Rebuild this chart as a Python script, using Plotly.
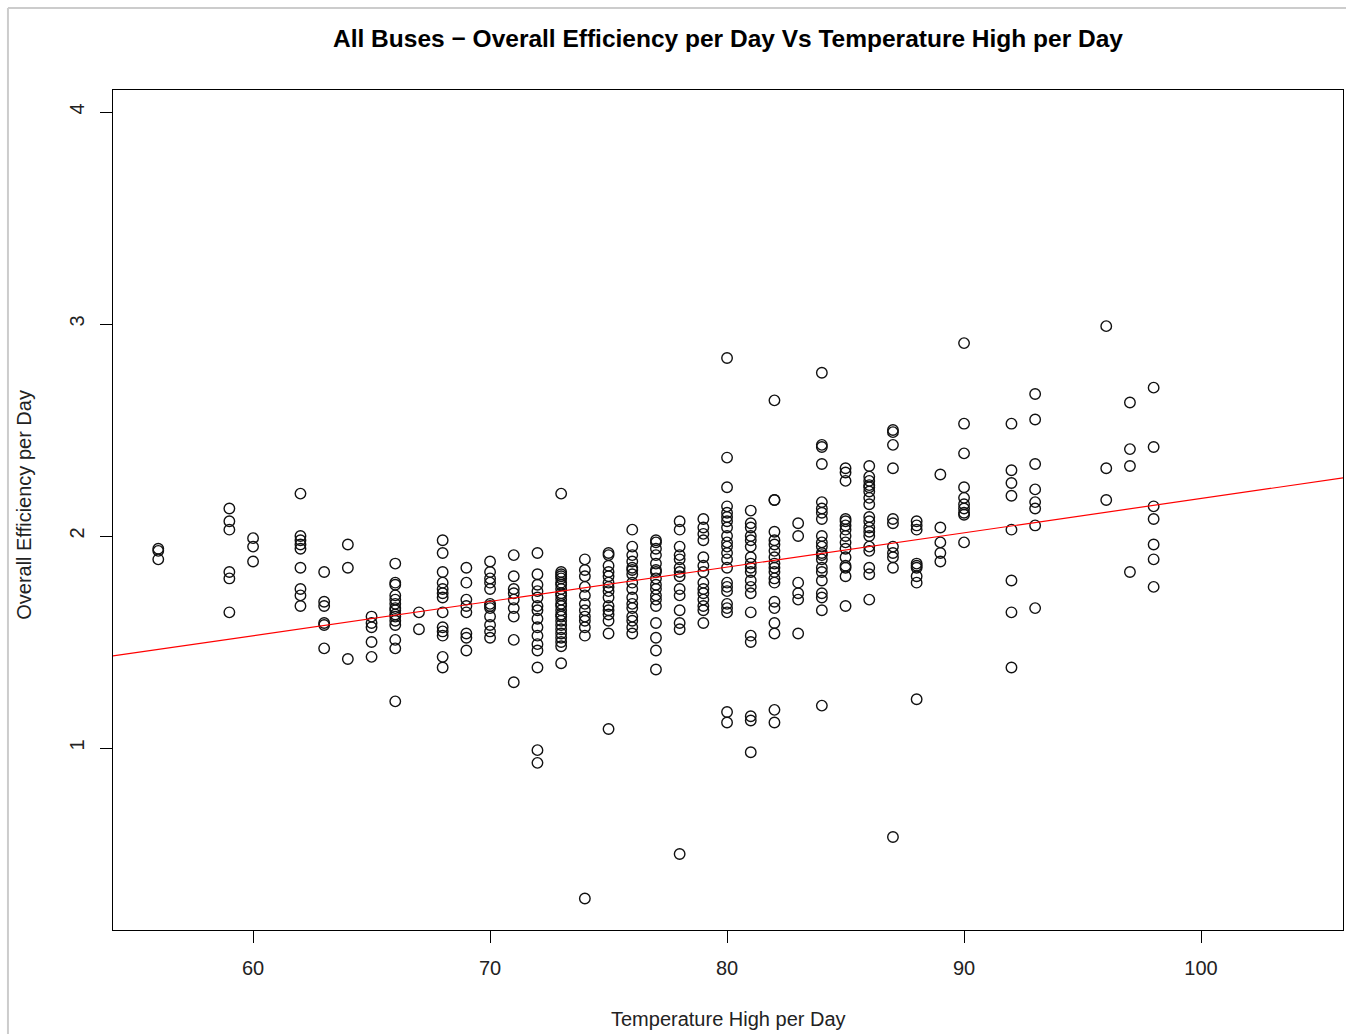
import plotly.graph_objects as go

# Daily overall efficiency, grouped by the day's high temperature (deg F)
eff_56 = [1.94, 1.93, 1.89]
eff_59 = [2.13, 2.07, 2.03, 1.83, 1.80, 1.64]
eff_60 = [1.99, 1.95, 1.88]
eff_62 = [2.20, 2.00, 1.98, 1.96, 1.94, 1.85, 1.75, 1.72, 1.67]
eff_63 = [1.83, 1.69, 1.67, 1.59, 1.58, 1.47]
eff_64 = [1.96, 1.85, 1.42]
eff_65 = [1.62, 1.59, 1.57, 1.50, 1.43]
eff_66 = [1.87, 1.78, 1.77, 1.72, 1.70, 1.68, 1.66, 1.65, 1.63, 1.62, 1.60, 1.58, 1.51, 1.47, 1.22]
eff_67 = [1.64, 1.56]
eff_68 = [1.98, 1.92, 1.83, 1.78, 1.75, 1.73, 1.71, 1.64, 1.57, 1.55, 1.53, 1.43, 1.38]
eff_69 = [1.85, 1.78, 1.70, 1.67, 1.64, 1.54, 1.52, 1.46]
eff_70 = [1.88, 1.83, 1.80, 1.78, 1.75, 1.68, 1.67, 1.66, 1.62, 1.58, 1.55, 1.52]
eff_71 = [1.91, 1.81, 1.75, 1.73, 1.70, 1.66, 1.62, 1.51, 1.31]
eff_72 = [1.92, 1.82, 1.77, 1.74, 1.71, 1.67, 1.65, 1.61, 1.57, 1.53, 1.49, 1.46, 1.38, 0.99, 0.93]
eff_73 = [2.20, 1.83, 1.82, 1.81, 1.80, 1.78, 1.77, 1.75, 1.73, 1.72, 1.70, 1.68, 1.67, 1.65,
          1.63, 1.62, 1.60, 1.58, 1.56, 1.54, 1.52, 1.50, 1.48, 1.40]
eff_74 = [1.89, 1.84, 1.81, 1.76, 1.72, 1.68, 1.65, 1.62, 1.60, 1.57, 1.53, 0.29]
eff_75 = [1.92, 1.91, 1.86, 1.83, 1.81, 1.78, 1.76, 1.74, 1.71, 1.67, 1.65, 1.63, 1.60, 1.54, 1.09]
eff_76 = [2.03, 1.95, 1.91, 1.88, 1.85, 1.84, 1.82, 1.78, 1.75, 1.71, 1.68, 1.66, 1.62, 1.60, 1.57, 1.54]
eff_77 = [1.98, 1.97, 1.94, 1.91, 1.87, 1.84, 1.83, 1.80, 1.77, 1.75, 1.72, 1.70, 1.67, 1.59, 1.52, 1.46, 1.37]
eff_78 = [2.07, 2.03, 1.95, 1.91, 1.89, 1.85, 1.83, 1.81, 1.75, 1.72, 1.65, 1.59, 1.56, 0.50]
eff_79 = [2.08, 2.04, 2.01, 1.98, 1.90, 1.86, 1.83, 1.78, 1.75, 1.73, 1.70, 1.67, 1.65, 1.59]
eff_80 = [2.84, 2.37, 2.23, 2.14, 2.11, 2.09, 2.07, 2.04, 2.00, 1.97, 1.95, 1.92, 1.89, 1.85,
          1.78, 1.76, 1.74, 1.68, 1.66, 1.64, 1.17, 1.12]
eff_81 = [2.12, 2.06, 2.04, 2.00, 1.98, 1.95, 1.90, 1.87, 1.85, 1.83, 1.79, 1.76, 1.73, 1.64,
          1.53, 1.50, 1.15, 1.13, 0.98]
eff_82 = [2.64, 2.17, 2.17, 2.02, 1.98, 1.96, 1.93, 1.90, 1.87, 1.85, 1.83, 1.80, 1.78, 1.69,
          1.66, 1.59, 1.54, 1.18, 1.12]
eff_83 = [2.06, 2.00, 1.78, 1.73, 1.70, 1.54]
eff_84 = [2.77, 2.43, 2.42, 2.34, 2.16, 2.13, 2.11, 2.08, 2.00, 1.97, 1.95, 1.92, 1.91, 1.89,
          1.85, 1.83, 1.79, 1.73, 1.71, 1.65, 1.20]
eff_85 = [2.32, 2.30, 2.26, 2.08, 2.07, 2.05, 2.03, 2.00, 1.97, 1.94, 1.90, 1.86, 1.85, 1.81, 1.67]
eff_86 = [2.33, 2.28, 2.26, 2.24, 2.23, 2.21, 2.18, 2.15, 2.09, 2.07, 2.04, 2.02, 2.00, 1.95,
          1.93, 1.85, 1.82, 1.70]
eff_87 = [2.50, 2.49, 2.43, 2.32, 2.08, 2.06, 1.95, 1.92, 1.90, 1.85, 0.58]
eff_88 = [2.07, 2.05, 2.03, 1.87, 1.86, 1.85, 1.81, 1.78, 1.23]
eff_89 = [2.29, 2.04, 1.97, 1.92, 1.88]
eff_90 = [2.91, 2.53, 2.39, 2.23, 2.18, 2.15, 2.13, 2.11, 2.10, 1.97]
eff_92 = [2.53, 2.31, 2.25, 2.19, 2.03, 1.79, 1.64, 1.38]
eff_93 = [2.67, 2.55, 2.34, 2.22, 2.16, 2.13, 2.05, 1.66]
eff_96 = [2.99, 2.32, 2.17]
eff_97 = [2.63, 2.41, 2.33, 1.83]
eff_98 = [2.70, 2.42, 2.14, 2.08, 1.96, 1.89, 1.76]

temps = [56, 59, 60, 62, 63, 64, 65, 66, 67, 68, 69, 70, 71, 72, 73, 74, 75, 76, 77,
         78, 79, 80, 81, 82, 83, 84, 85, 86, 87, 88, 89, 90, 92, 93, 96, 97, 98]
groups = [eff_56, eff_59, eff_60, eff_62, eff_63, eff_64, eff_65, eff_66, eff_67, eff_68,
          eff_69, eff_70, eff_71, eff_72, eff_73, eff_74, eff_75, eff_76, eff_77, eff_78,
          eff_79, eff_80, eff_81, eff_82, eff_83, eff_84, eff_85, eff_86, eff_87, eff_88,
          eff_89, eff_90, eff_92, eff_93, eff_96, eff_97, eff_98]

# Fitted line: efficiency = intercept + slope * temperature
fit_intercept = 0.559
fit_slope = 0.01618

x_range = [54.09, 105.99]
y_range = [0.1415, 4.104]
x_ticks = [60, 70, 80, 90, 100]
y_ticks = [1, 2, 3, 4]

temp_high = [t for t, vals in zip(temps, groups) for _ in vals]
efficiency = [v for vals in groups for v in vals]

FONT = "Liberation Sans, Arial, sans-serif"

fig = go.Figure()
fig.add_trace(go.Scatter(
    x=temp_high, y=efficiency, mode="markers",
    marker=dict(symbol="circle-open", size=10.5, color="#111111", line=dict(width=1.4)),
    showlegend=False, hoverinfo="x+y",
))
fig.add_trace(go.Scatter(
    x=x_range, y=[fit_intercept + fit_slope * t for t in x_range], mode="lines",
    line=dict(color="#ff0000", width=1.2), showlegend=False, hoverinfo="skip",
))

axis_common = dict(
    showgrid=False, zeroline=False, showline=True, mirror=True,
    linecolor="#000000", linewidth=1, ticks="outside", ticklen=12,
    tickcolor="#000000", tickwidth=1, ticklabelstandoff=8,
    tickfont=dict(family=FONT, size=20, color="#222222"),
)

fig.update_xaxes(range=x_range, tickvals=x_ticks, **axis_common)
fig.update_yaxes(range=y_range, tickvals=y_ticks, tickangle=-90, **axis_common)

fig.update_layout(
    width=1346, height=1034,
    margin=dict(l=113, r=3, t=90, b=104),
    paper_bgcolor="white", plot_bgcolor="white",
    title=dict(
        text="All Buses \u2212 Overall Efficiency per Day Vs Temperature High per Day",
        x=0.5, xref="paper", xanchor="center",
        y=1 - 38 / 1034, yref="container", yanchor="middle",
        font=dict(family=FONT, size=24.5, color="#000000", weight="bold"),
    ),
    annotations=[
        dict(text="Temperature High per Day", xref="paper", yref="paper",
             x=0.5, y=-0.106, xanchor="center", yanchor="middle", showarrow=False,
             font=dict(family=FONT, size=20, color="#222222")),
        dict(text="Overall Efficiency per Day", xref="paper", yref="paper",
             x=-0.0725, y=0.506, xanchor="center", yanchor="middle", showarrow=False,
             textangle=-90, font=dict(family=FONT, size=20, color="#222222")),
    ],
    shapes=[
        # light frame around the page
        dict(type="line", xref="paper", yref="paper", x0=-0.0854, x1=-0.0854,
             y0=1.0976, y1=-0.13, line=dict(color="#cccccc", width=2)),
        dict(type="line", xref="paper", yref="paper", x0=-0.0854, x1=1.01,
             y0=1.0976, y1=1.0976, line=dict(color="#cccccc", width=2)),
    ],
)

fig.write_html("out.html")
